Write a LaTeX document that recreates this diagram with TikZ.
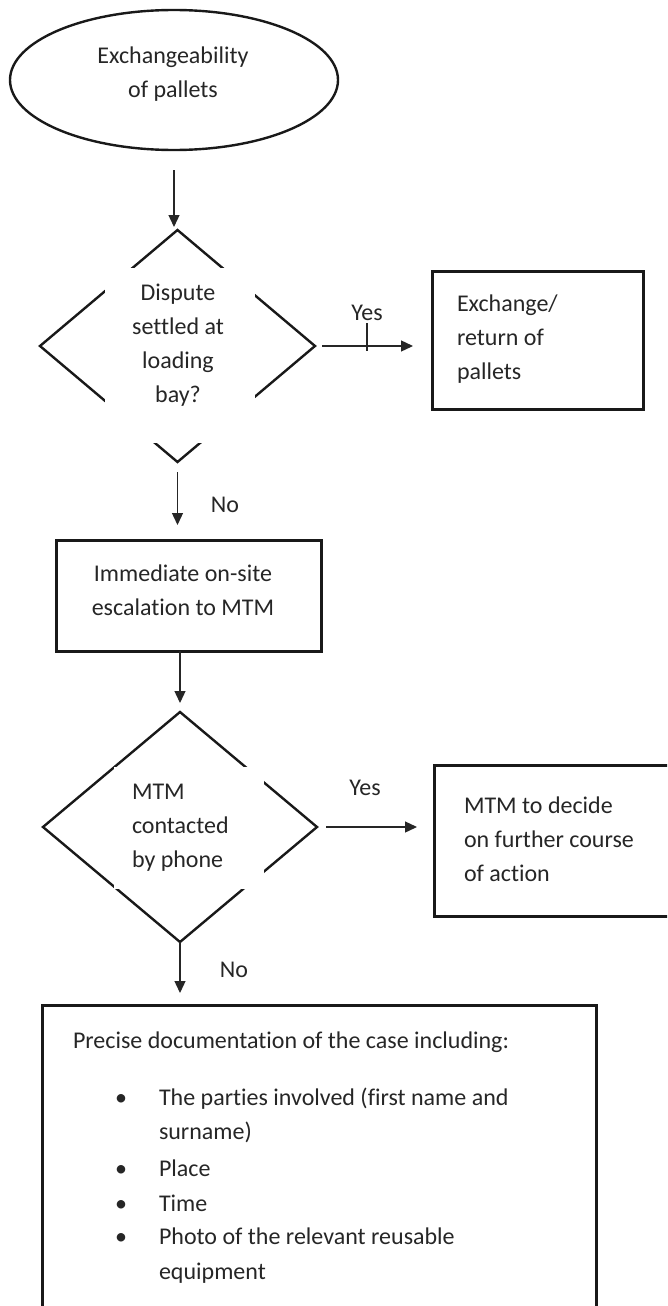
\documentclass[tikz,border=0pt]{standalone}
\usepackage{fontspec}
\setmainfont{Carlito}[Ligatures={NoCommon}]
\usetikzlibrary{shapes.geometric,arrows.meta}
\begin{document}
\begin{tikzpicture}[x=1pt,y=-1pt,
  every node/.style={inner sep=0pt, outer sep=0pt},
  txt/.style={font=\fontsize{24}{34}\selectfont, text=black!85},
  shp/.style={draw=black!90, line width=2.4pt},
  boxs/.style={draw=black!90, line width=3pt, rectangle},
  arr/.style={draw=black!85, line width=1.3pt, -{Triangle[length=12pt,width=11pt]}},
  mask/.style={fill=white, rectangle}
]
\useasboundingbox (0,0) rectangle (667,1306);
\clip (0,0) rectangle (667,1306);

% start ellipse
\node[shp, ellipse, minimum width=328pt, minimum height=140pt] (ell) at (174,80) {};
\node[txt, align=center] (ellt) at (173,74) {Exchangeability\\of pallets};

% decision 1
\node[shp, diamond, minimum width=275pt, minimum height=232pt] (d1) at (177.5,346) {};
\node[mask, minimum width=150pt, minimum height=175pt] (d1m) at (180,355.5) {};
\node[txt, align=center] (d1t) at (178,345) {Dispute\\settled at\\loading\\bay?};
\draw[arr, shorten <=20pt, shorten >=3pt] (ell.south) -- (ell.south |- d1.north);

% exchange box
\node[boxs, minimum width=211pt, minimum height=138pt] (ex) at (537.5,340) {};
\node[txt, align=left, anchor=west] (ext) at (457,339.5) {Exchange/\\return of\\pallets};
\draw[arr, shorten <=7pt, shorten >=19pt] (d1.east) -- (d1.east -| ex.west);
\node[txt] (yes1) at (367,313) {Yes};
\coordinate (tk) at (367,323);
\draw[draw=black!85, line width=1.3pt] (tk) -- ++(0,28);

% escalation box
\node[txt] (no1) at (225,505) {No};
\node[boxs, minimum width=265pt, minimum height=111pt] (imm) at (188.5,595.5) {};
\node[txt, align=center] (immt) at (183,590) {Immediate on-site\\escalation to MTM};
\draw[arr, shorten <=10pt, shorten >=15pt] (d1.south) -- (d1.south |- imm.north);

% decision 2
\node[shp, diamond, minimum width=274pt, minimum height=230pt] (d2) at (180,827) {};
\node[mask, minimum width=150pt, minimum height=122pt] (d2m) at (189,828) {};
\node[txt, align=left, anchor=west] (d2t) at (132,827.5) {MTM\\contacted\\by phone};
\draw[arr, shorten >=9pt] (d2.north |- imm.south) -- (d2.north);

% MTM decides box
\node[txt] (yes2) at (365,788) {Yes};
\node[boxs, minimum width=266pt, minimum height=151pt] (mtm) at (567,840.5) {};
\node[txt, align=left, anchor=west] (mtmt) at (464,839.5) {MTM to decide\\on further course\\of action};
\draw[arr, shorten <=9pt, shorten >=17pt] (d2.east) -- (d2.east -| mtm.west);

% documentation box
\node[txt] (no2) at (234,970) {No};
\node[boxs, minimum width=554pt, minimum height=335pt] (doc) at (319,1172.5) {};
\draw[arr, shorten >=12pt] (d2.south) -- (d2.south |- doc.north);

\node[txt, anchor=base west] (p0) at (73,1048) {Precise documentation of the case including:};
\node[txt, anchor=base] (b1) at (121,1105) {•};
\node[txt, anchor=base west] (i1a) at (159,1105) {The parties involved (first name and};
\node[txt, anchor=base west] (i1b) at (159,1139) {surname)};
\node[txt, anchor=base] (b2) at (121,1176) {•};
\node[txt, anchor=base west] (i2) at (159,1176) {Place};
\node[txt, anchor=base] (b3) at (121,1211) {•};
\node[txt, anchor=base west] (i3) at (159,1211) {Time};
\node[txt, anchor=base] (b4) at (121,1244) {•};
\node[txt, anchor=base west] (i4a) at (159,1244) {Photo of the relevant reusable};
\node[txt, anchor=base west] (i4b) at (159,1279) {equipment};
\end{tikzpicture}
\end{document}
